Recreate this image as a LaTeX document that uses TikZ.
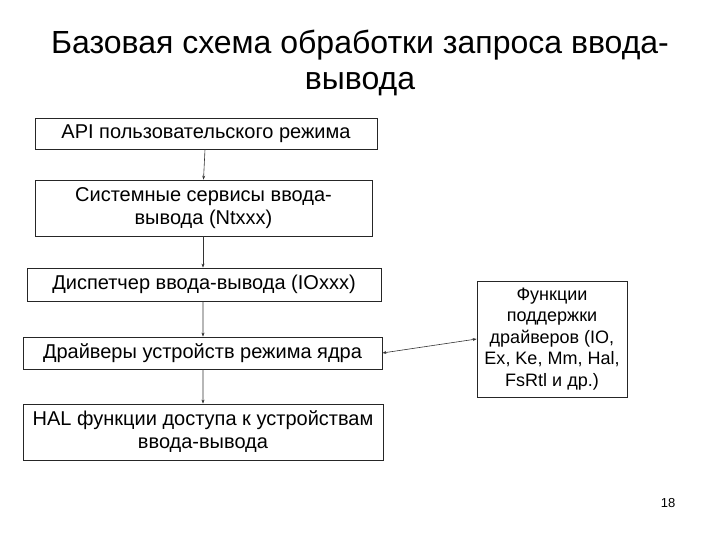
\documentclass[tikz,border=0pt]{standalone}
\usepackage{fontspec}
\setmainfont{Liberation Sans}
\usetikzlibrary{arrows.meta}
\begin{document}
\begin{tikzpicture}[x=1bp,y=-1bp,
  box/.style={draw=black!85, line width=0.8bp, inner sep=0pt, align=center, font=\fontsize{20bp}{23bp}\selectfont},
  conn/.style={draw=black!80, line width=0.6bp, -{Stealth[length=4bp,width=3bp]}},
  conn2/.style={draw=black!80, line width=0.6bp, {Stealth[length=4bp,width=3bp]}-{Stealth[length=4bp,width=3bp]}}]
\useasboundingbox (0,0) rectangle (720,540);
\node[align=center, font=\fontsize{32bp}{36bp}\selectfont] (title) at (360,63) {Базовая схема обработки запроса ввода-\\вывода};
\node[box, minimum width=342bp, minimum height=31bp] (api) at (206,133.5) {API пользовательского режима};
\node[box, minimum width=337bp, minimum height=56bp] (sys) at (203.5,208) {Системные сервисы ввода-\\вывода (Ntxxx)};
\node[box, minimum width=354bp, minimum height=33bp] (io) at (204,284.5) {Диспетчер ввода-вывода (IOxxx)};
\node[box, minimum width=359bp, minimum height=32bp] (drv) at (202.5,353) {Драйверы устройств режима ядра};
\node[box, minimum width=360bp, minimum height=56bp] (hal) at (203,432) {HAL функции доступа к устройствам\\ввода-вывода};
\node[box, minimum width=150bp, minimum height=116bp, font=\fontsize{18bp}{21.5bp}\selectfont] (fn) at (552,339) {Функции\\поддержки\\драйверов (IO,\\Ex, Ke, Mm, Hal,\\FsRtl и др.)};
\node[font=\fontsize{13bp}{15bp}\selectfont] (pg) at (668,503) {18};
\draw[conn] ([xshift=-1bp]api.south) -- (sys.north);
\draw[conn] ([xshift=-0.5bp]sys.south) -- ([xshift=-1bp]io.north);
\draw[conn] ([xshift=-1bp]io.south) -- ([xshift=0.5bp]drv.north);
\draw[conn] ([xshift=0.5bp]drv.south) -- (hal.north);
\draw[conn2] (drv.east) -- (fn.west);
\end{tikzpicture}
\end{document}
